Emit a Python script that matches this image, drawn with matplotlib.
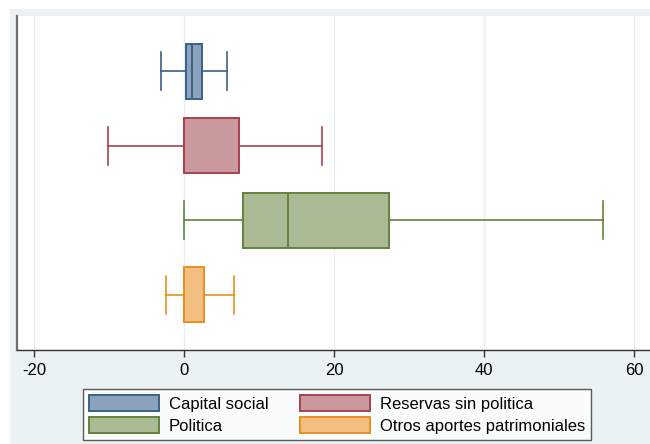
import matplotlib.pyplot as plt
from matplotlib.patches import Rectangle, Patch

plt.rcParams['font.family'] = ['Liberation Sans', 'DejaVu Sans']
plt.rcParams['axes.unicode_minus'] = False

# Box plot summary statistics per component (whisker low, q1, median, q3, whisker high)
labels = ["Capital social", "Reservas sin politica", "Politica", "Otros aportes patrimoniales"]
whislo = [-3.1, -10.2, 0.0, -2.5]
q1 = [0.2, 0.0, 7.8, 0.0]
med = [1.0, 0.0, 13.8, 0.0]
q3 = [2.3, 7.3, 27.3, 2.6]
whishi = [5.7, 18.3, 55.8, 6.6]

fills = ["#8ba2bc", "#c9999e", "#a9ba94", "#f2bf80"]
edges = ["#3a6186", "#a8424e", "#62833a", "#eb8e22"]

fig = plt.figure(figsize=(6.5, 4.44), dpi=100)
fig.patch.set_facecolor("white")
# light panel behind the plot region
fig.patches.append(Rectangle((10 / 650, 0), 1 - 10 / 650, 1 - 9 / 444,
                             transform=fig.transFigure, facecolor="#eaf2f3",
                             edgecolor="none", zorder=-10))

ax = fig.add_axes([17 / 650, 1 - 350 / 444, 1 - 17 / 650, (350 - 16) / 444])
ax.set_facecolor("white")

stats = []
for i in range(len(labels)):
    stats.append(dict(label=labels[i], whislo=whislo[i], q1=q1[i], med=med[i],
                      q3=q3[i], whishi=whishi[i], fliers=[]))

positions = [4, 3, 2, 1]
for i, s in enumerate(stats):
    ax.bxp([s], positions=[positions[i]], widths=0.74, vert=False,
           patch_artist=True, showfliers=False,
           boxprops=dict(facecolor=fills[i], edgecolor=edges[i], linewidth=1.4),
           medianprops=dict(color=edges[i], linewidth=1.4),
           whiskerprops=dict(color=edges[i], linewidth=1.2),
           capprops=dict(color=edges[i], linewidth=1.2),
           capwidths=0.51)

ax.set_xlim(-22.3, 62.1)
ax.set_ylim(0.26, 4.74)
ax.set_xticks([-20, 0, 20, 40, 60])
ax.set_yticks([])
ax.xaxis.grid(True, color="#e6eef0", linewidth=1)
ax.set_axisbelow(True)
ax.tick_params(axis="x", length=5, width=1, color="#333333", labelsize=12, pad=4)
for side in ["top", "right"]:
    ax.spines[side].set_visible(False)
ax.spines["left"].set_color("#707070")
ax.spines["left"].set_linewidth(1.6)
ax.spines["bottom"].set_color("#333333")
ax.spines["bottom"].set_linewidth(1)

handles = [Patch(facecolor=fills[i], edgecolor=edges[i], linewidth=1.4, label=labels[i])
           for i in range(len(labels))]
# two-column legend: row 1 = Capital social, Reservas; row 2 = Politica, Otros
order = [0, 2, 1, 3]
leg = fig.legend([handles[k] for k in order], [labels[k] for k in order],
                 loc="center", bbox_to_anchor=(337 / 650, 1 - 414.5 / 444),
                 ncol=2, frameon=True, fancybox=False, fontsize=12,
                 handlelength=4.2, handleheight=1.1, columnspacing=1.9,
                 handletextpad=0.6, borderpad=0.35, labelspacing=0.35)
leg.get_frame().set_edgecolor("#333333")
leg.get_frame().set_linewidth(1)

fig.savefig("out.png", dpi=100)
